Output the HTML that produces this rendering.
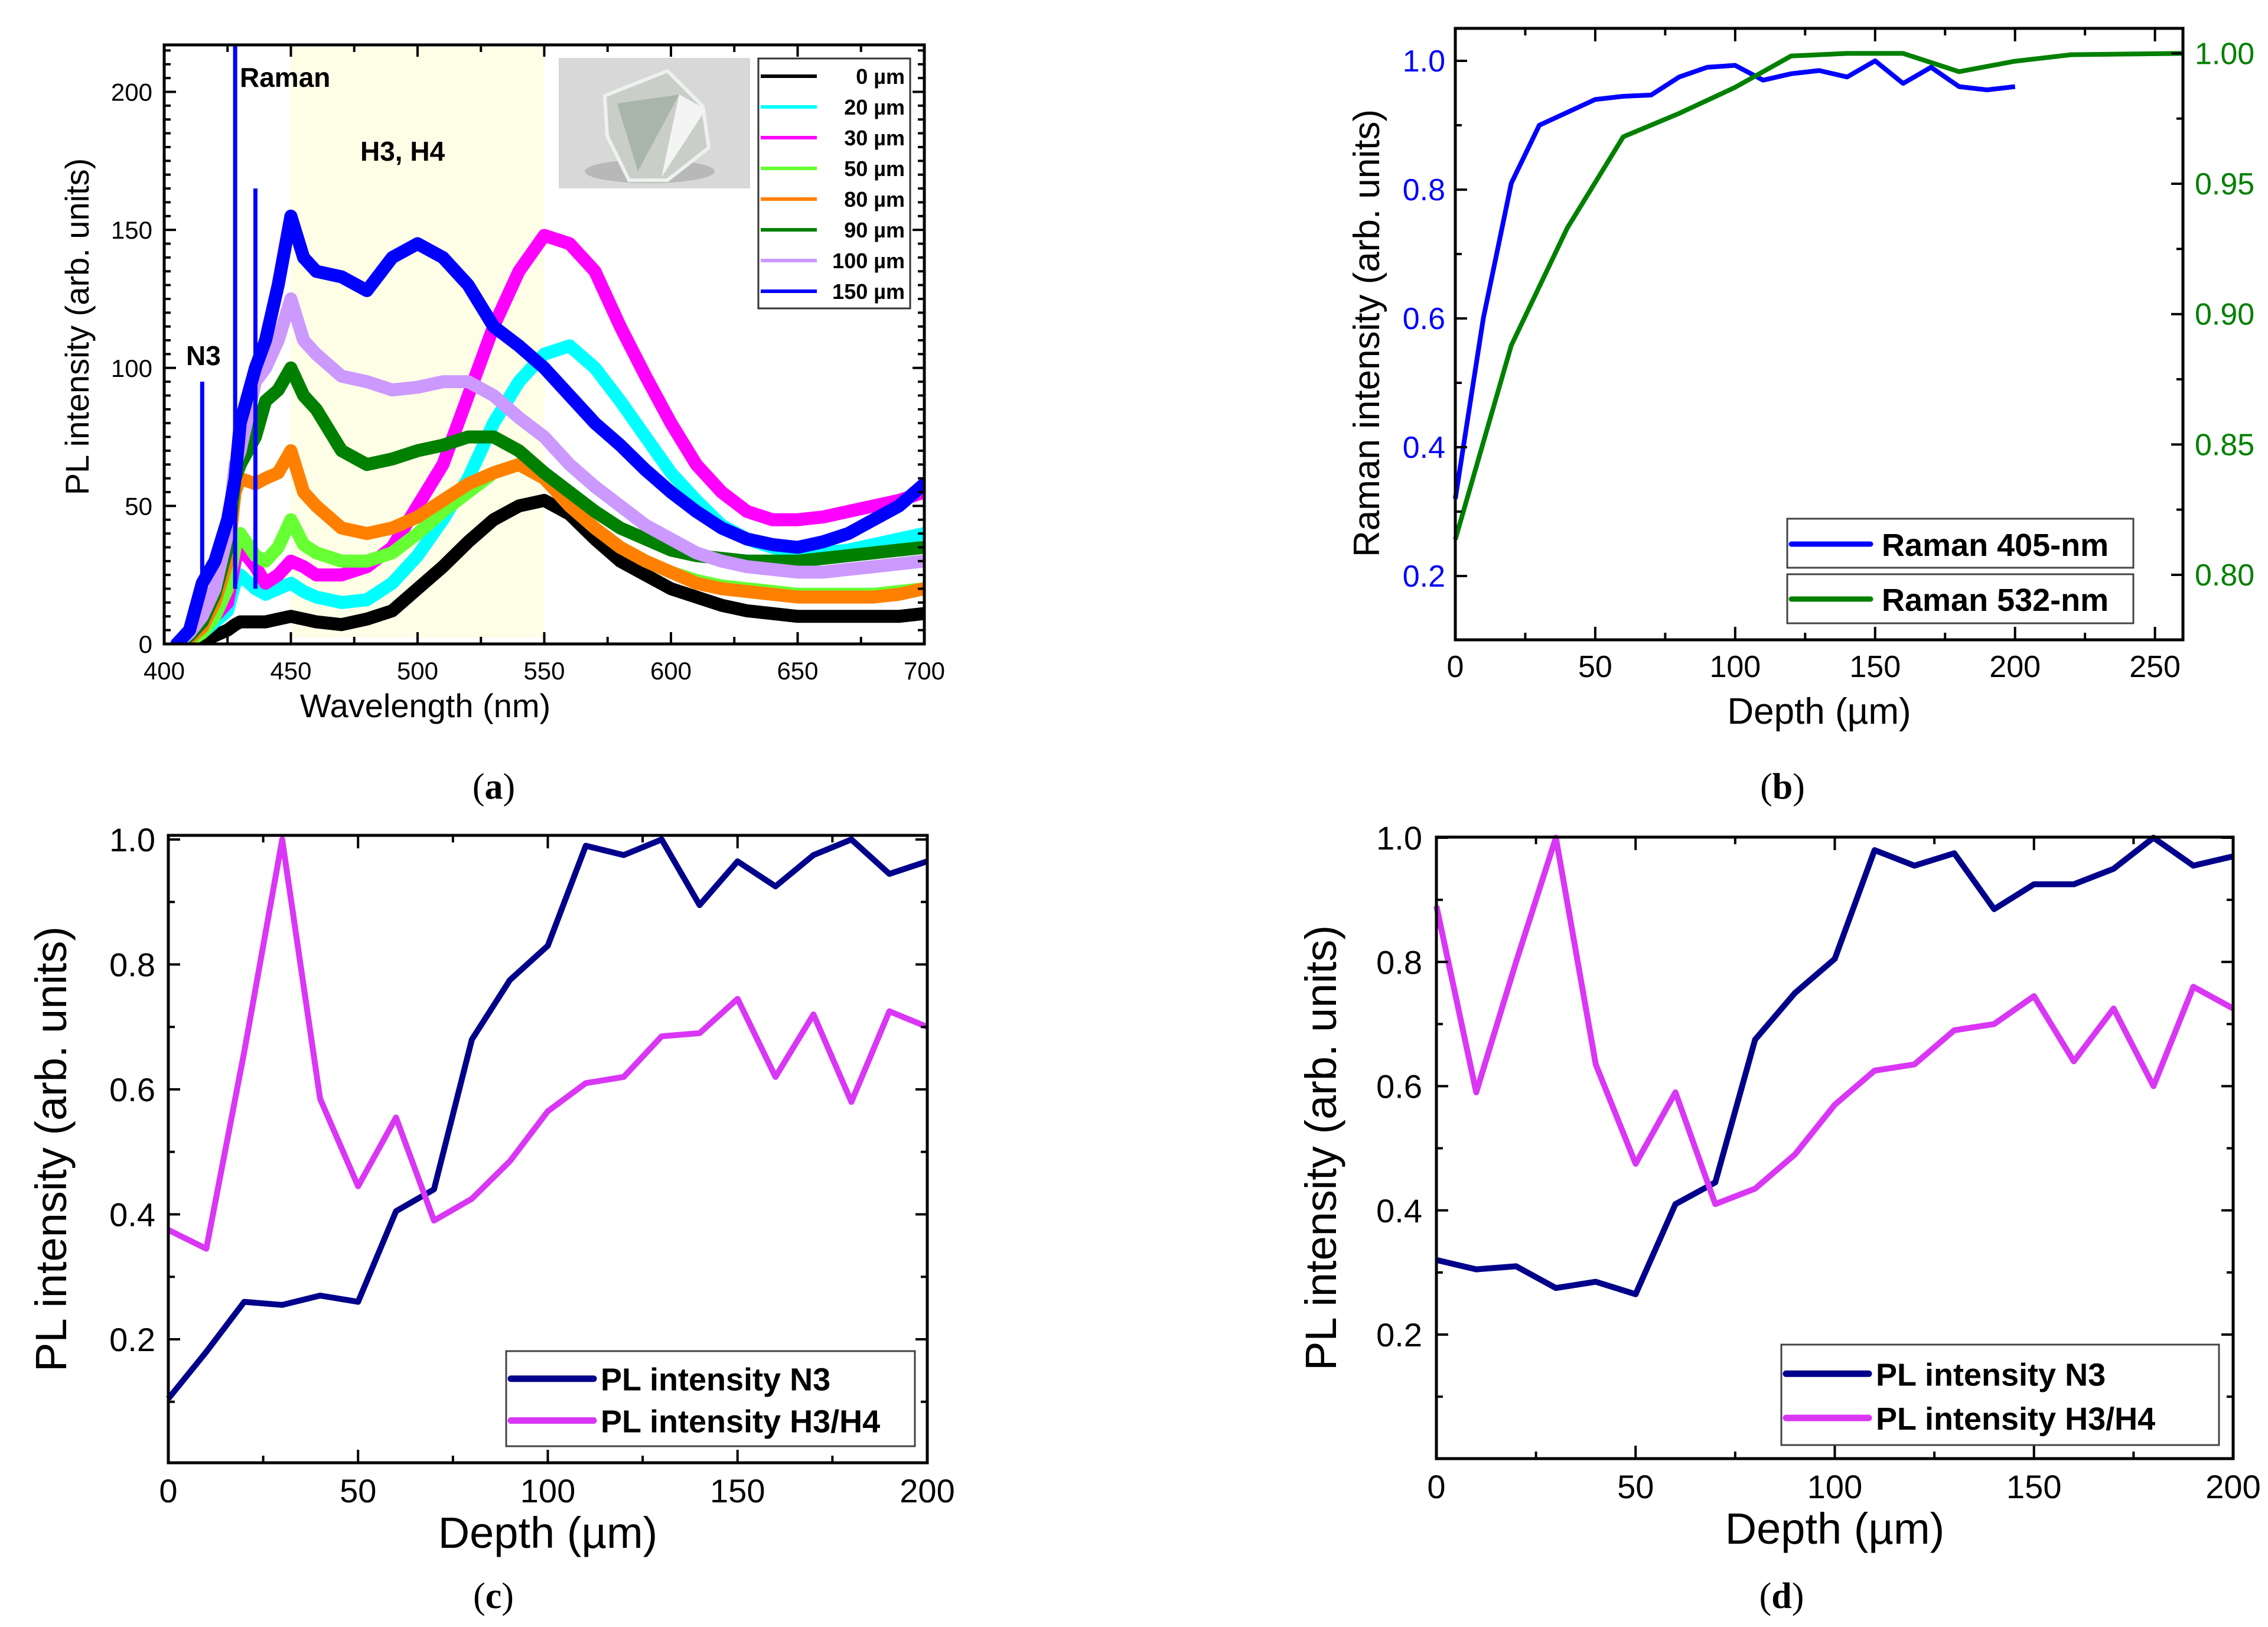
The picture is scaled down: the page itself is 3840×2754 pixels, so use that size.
<!DOCTYPE html>
<html><head><meta charset="utf-8">
<style>
html,body{margin:0;padding:0;background:#fff;}
svg{display:block;font-family:"Liberation Sans",Arial,sans-serif;}
</style></head>
<body>
<svg id="fig" xmlns="http://www.w3.org/2000/svg" width="3840" height="2754" viewBox="0 0 3840 2754">
<rect x="0" y="0" width="3840" height="2754" fill="#fff"/>
</svg>
<script>
// ---------- Panel (a) data ----------
var aWavelengths=[405,410,415,420,425,428,430,436,440,445,450,455,460,470,480,490,500,510,520,530,540,550,560,570,580,590,600,610,620,630,640,650,660,670,680,690,700];
var aDepthLabels=["0 µm","20 µm","30 µm","50 µm","80 µm","90 µm","100 µm","150 µm"];
var aS0  =[0,0,1,3,5,7,8,8,8,9,10,9,8,7,9,12,20,28,37,45,50,52,47,38,30,25,20,17,14,12,11,10,10,10,10,10,11];
var aS20 =[0,1,4,8,12,22,25,20,18,20,22,19,17,15,16,22,32,45,60,80,95,105,108,100,88,75,62,52,43,38,35,33,33,34,36,38,40];
var aS30 =[0,2,5,10,15,30,35,28,22,25,30,28,25,25,28,35,50,65,90,115,135,148,145,135,115,97,80,65,55,48,45,45,46,48,50,52,55];
var aS50 =[0,1,4,10,20,35,40,32,30,35,45,36,33,30,30,33,40,48,55,62,65,60,50,42,35,30,26,23,21,20,19,18,18,18,18,19,20];
var aS80 =[0,2,6,15,30,55,60,58,60,62,70,55,50,42,40,42,46,52,58,62,65,60,50,42,35,30,26,22,20,19,18,17,17,17,17,18,20];
var aS90 =[0,3,8,18,35,60,65,75,88,92,100,90,85,70,65,67,70,72,75,75,70,62,55,48,42,38,34,32,31,30,30,30,31,32,33,34,35];
var aS100=[0,4,10,20,40,65,70,95,100,110,125,110,105,97,95,92,93,95,95,90,82,75,65,57,50,43,38,33,30,28,27,26,26,27,28,29,30];
var aS150=[0,5,22,30,45,60,80,100,110,130,155,140,135,133,128,140,145,140,130,115,108,100,90,80,72,63,55,48,42,38,36,35,37,40,45,50,58];
var aSpikeWl=[415,428,436];
var aSpikeVal=[95,217,165];
var aXTicks=[400,450,500,550,600,650,700];
var aYTicks=[0,50,100,150,200];
// ---------- Panel (b) data ----------
var bDepth405=[0,10,20,30,40,50,60,70,80,90,100,110,120,130,140,150,160,170,180,190,200];
var bRaman405=[0.32,0.6,0.81,0.9,0.92,0.94,0.945,0.947,0.975,0.99,0.993,0.97,0.98,0.985,0.975,1.0,0.965,0.99,0.96,0.955,0.96];
var bDepth532=[0,20,40,60,80,100,120,140,160,180,200,220,260];
var bRaman532=[0.8136,0.888,0.933,0.968,0.977,0.987,0.999,1.0,1.0,0.993,0.997,0.9995,1.0];
var bXTicks=[0,50,100,150,200,250];
var bYLeftTicks=[0.2,0.4,0.6,0.8,1.0];
var bYRightTicks=[0.80,0.85,0.90,0.95,1.00];
// ---------- Panel (c) data ----------
var cDepth=[0,10,20,30,40,50,60,70,80,90,100,110,120,130,140,150,160,170,180,190,200];
var cN3=[0.105,0.18,0.26,0.255,0.27,0.26,0.405,0.44,0.68,0.775,0.83,0.99,0.975,1.0,0.895,0.965,0.925,0.975,1.0,0.945,0.965];
var cH3=[0.375,0.345,0.66,1.0,0.585,0.445,0.555,0.39,0.425,0.485,0.565,0.61,0.62,0.685,0.69,0.745,0.62,0.72,0.58,0.725,0.7];
// ---------- Panel (d) data ----------
var dDepth=[0,10,20,30,40,50,60,70,80,90,100,110,120,130,140,150,160,170,180,190,200];
var dN3=[0.32,0.305,0.31,0.275,0.285,0.265,0.41,0.445,0.675,0.75,0.805,0.98,0.955,0.975,0.885,0.925,0.925,0.95,1.0,0.955,0.97];
var dH3=[0.89,0.59,0.8,1.0,0.635,0.475,0.59,0.41,0.435,0.49,0.57,0.625,0.635,0.69,0.7,0.745,0.64,0.725,0.6,0.76,0.725];
var cdXTicks=[0,50,100,150,200];
var cdYTicks=[0.2,0.4,0.6,0.8,1.0];

var NS="http://www.w3.org/2000/svg";
var svg=document.getElementById('fig');
function mk(tag,attrs,parent){var e=document.createElementNS(NS,tag);for(var k in attrs)e.setAttribute(k,attrs[k]);(parent||svg).appendChild(e);return e;}
function lin(d0,d1,r0,r1){return function(v){return r0+(v-d0)/(d1-d0)*(r1-r0);};}
function pathD(xs,ys,fx,fy){var s='';for(var i=0;i<xs.length;i++){s+=(i?'L':'M')+fx(xs[i]).toFixed(1)+' '+fy(ys[i]).toFixed(1);}return s;}
function txt(x,y,str,size,opts,parent){opts=opts||{};var t=mk('text',{x:x,y:y,'font-size':size,fill:opts.fill||'#000','text-anchor':opts.anchor||'middle','font-weight':opts.weight||'normal'},parent);if(opts.family)t.setAttribute('font-family',opts.family);if(opts.rot)t.setAttribute('transform','rotate(-90 '+x+' '+y+')');t.textContent=str;return t;}

// ===== Panel A =====
var gA=mk('g',{});


var aL=278,aR=1565,aT=76,aB=1090;
var ax=lin(400,700,aL,aR), ay=lin(0,200,aB,155.5);
var band=mk('rect',{x:ax(450),y:aT+3,width:ax(550)-ax(450),height:aB-aT-14,fill:'#fefde6'},gA);


var aColors=['#000000','#00ffff','#ff00ff','#66ff33','#ff8000','#008000','#cc99ff','#0000ff'];
var aSeries=[aS0,aS20,aS30,aS50,aS80,aS90,aS100,aS150];
var clipA=mk('clipPath',{id:'clipA'},gA);mk('rect',{x:aL,y:aT,width:aR-aL,height:aB-aT},clipA);
var gAS=mk('g',{'clip-path':'url(#clipA)'},gA);
for(var i=0;i<aSeries.length;i++){
  var p=mk('path',{d:pathD(aWavelengths,aSeries[i],ax,ay),fill:'none',stroke:aColors[i],'stroke-width':22,'stroke-linejoin':'round','stroke-linecap':'round'},gAS);
  
  
}
for(var i=0;i<aSpikeWl.length;i++){
  var sp=mk('line',{x1:ax(aSpikeWl[i]),x2:ax(aSpikeWl[i]),y1:ay(20),y2:ay(aSpikeVal[i]),stroke:'#0000ff','stroke-width':7},gAS);
  
  
}
// inset photo
var gI=mk('g',{},gA);


mk('rect',{x:946,y:98,width:324,height:221,fill:'#d8d8d8'},gI);
mk('ellipse',{cx:1100,cy:290,rx:110,ry:20,fill:'#b8b8b8'},gI);
mk('polygon',{points:'1024,162 1130,120 1190,180 1200,250 1130,305 1065,305 1028,230',fill:'#c9cec9',stroke:'#eef2ee','stroke-width':6},gI);
mk('polygon',{points:'1045,175 1150,160 1080,290',fill:'#aab5aa'},gI);
mk('polygon',{points:'1150,160 1195,185 1120,300',fill:'#f4f4f4'},gI);
// axes frame & ticks
mk('rect',{x:aL,y:aT,width:aR-aL,height:aB-aT,fill:'none',stroke:'#000','stroke-width':5},gA);
for(var v=400;v<=700;v+=25){var L=(v%50==0)?20:12;mk('line',{x1:ax(v),x2:ax(v),y1:aB,y2:aB-L,stroke:'#000','stroke-width':4},gA);mk('line',{x1:ax(v),x2:ax(v),y1:aT,y2:aT+L,stroke:'#000','stroke-width':4},gA);}
for(var v=0;v<=215;v+=5){var L=(v%50==0)?20:11;mk('line',{x1:aL,x2:aL+L,y1:ay(v),y2:ay(v),stroke:'#000','stroke-width':4},gA);mk('line',{x1:aR,x2:aR-L,y1:ay(v),y2:ay(v),stroke:'#000','stroke-width':4},gA);}
for(var i=0;i<aXTicks.length;i++){txt(ax(aXTicks[i]),1150,String(aXTicks[i]),42,{},gA);}
for(var i=0;i<aYTicks.length;i++){txt(258,ay(aYTicks[i])+15,String(aYTicks[i]),42,{anchor:'end'},gA);}
var t=txt(720,1214,'Wavelength (nm)',56,{},gA);
t=txt(150,553,'PL intensity (arb. units)',56,{rot:1},gA);
txt(406,147,'Raman',46,{anchor:'start',weight:'bold'},gA);
txt(610,272,'H3, H4',46,{anchor:'start',weight:'bold'},gA);
txt(315,618,'N3',46,{anchor:'start',weight:'bold'},gA);
// legend a
var gLA=mk('g',{},gA);


mk('rect',{x:1284,y:99,width:257,height:423,fill:'#fff',stroke:'#333','stroke-width':3},gLA);
for(var i=0;i<aDepthLabels.length;i++){
  var yy=129+i*52;
  var ln=mk('line',{x1:1288,x2:1383,y1:yy,y2:yy,stroke:aColors[i],'stroke-width':6},gLA);
  
  
  txt(1532,yy+13,aDepthLabels[i],36,{anchor:'end',weight:'bold'},gLA);
}
txt(836,1352,'(',62,{family:'"Liberation Serif",serif'},gA);
var lab=mk('text',{x:836,y:1352,'font-size':62,'text-anchor':'middle','font-family':'"Liberation Serif",serif'},gA);lab.innerHTML='(<tspan font-weight="bold">a</tspan>)';
gA.removeChild(gA.querySelectorAll('text')[gA.querySelectorAll('text').length-2]);

// ===== Panel B =====
var gB=mk('g',{});


var bL=2464,bR=3696,bT=48,bB=1083;
var bx=lin(0,260,bL,bR), byL=lin(0.2,1.0,975,103), byR=lin(0.80,1.00,973,90.4);
var p1=mk('path',{d:pathD(bDepth405,bRaman405,bx,byL),fill:'none',stroke:'#0000ff','stroke-width':8,'stroke-linejoin':'round'},gB);

var p2=mk('path',{d:pathD(bDepth532,bRaman532,bx,byR),fill:'none',stroke:'#008000','stroke-width':8,'stroke-linejoin':'round'},gB);

mk('rect',{x:bL,y:bT,width:bR-bL,height:bB-bT,fill:'none',stroke:'#000','stroke-width':5},gB);
for(var v=0;v<=260;v+=25){var L=(v%50==0)?22:12;mk('line',{x1:bx(v),x2:bx(v),y1:bB,y2:bB-L,stroke:'#000','stroke-width':4},gB);mk('line',{x1:bx(v),x2:bx(v),y1:bT,y2:bT+L,stroke:'#000','stroke-width':4},gB);}
for(var v=0.2;v<=1.04;v+=0.1){var L=(Math.round(v*10)%2==0)?20:11;mk('line',{x1:bL,x2:bL+L,y1:byL(v),y2:byL(v),stroke:'#000','stroke-width':4},gB);}
for(var v=0.775;v<=1.005;v+=0.025){var L=(Math.round(v*1000)%50==0)?20:11;mk('line',{x1:bR,x2:bR-L,y1:byR(v),y2:byR(v),stroke:'#000','stroke-width':4},gB);}
for(var i=0;i<bXTicks.length;i++){txt(bx(bXTicks[i]),1146,String(bXTicks[i]),52,{},gB);}
for(var i=0;i<bYLeftTicks.length;i++){txt(2447,byL(bYLeftTicks[i])+18,bYLeftTicks[i].toFixed(1),52,{anchor:'end',fill:'#0000ff'},gB);}
for(var i=0;i<bYRightTicks.length;i++){txt(3716,byR(bYRightTicks[i])+18,bYRightTicks[i].toFixed(2),52,{anchor:'start',fill:'#008000'},gB);}
t=txt(3080,1225,'Depth (µm)',62,{},gB);
t=txt(2335,564,'Raman intensity (arb. units)',62,{rot:1},gB);
var gLB=mk('g',{},gB);


mk('rect',{x:3026,y:878,width:586,height:83,fill:'#fff',stroke:'#444','stroke-width':3},gLB);
mk('rect',{x:3026,y:972,width:586,height:83,fill:'#fff',stroke:'#444','stroke-width':3},gLB);
mk('line',{x1:3033,x2:3167,y1:921,y2:921,stroke:'#0000ff','stroke-width':9,'stroke-linecap':'round'},gLB);
mk('line',{x1:3033,x2:3167,y1:1014,y2:1014,stroke:'#008000','stroke-width':9,'stroke-linecap':'round'},gLB);
txt(3186,941,'Raman 405-nm',54,{anchor:'start',weight:'bold'},gLB);
txt(3186,1034,'Raman 532-nm',54,{anchor:'start',weight:'bold'},gLB);
lab=mk('text',{x:3018,y:1352,'font-size':62,'text-anchor':'middle','font-family':'"Liberation Serif",serif'},gB);lab.innerHTML='(<tspan font-weight="bold">b</tspan>)';

// ===== Panels C, D =====
function depthPanel(name,L,R,T,B,y10,y02,xs,n3,h3,lg,titleX,tickRX,letter){
  var g=mk('g',{});
  
  
  var fx=lin(0,200,L,R), fy=lin(0.2,1.0,y02,y10);
  var a=mk('path',{d:pathD(xs,n3,fx,fy),fill:'none',stroke:'#00008b','stroke-width':10,'stroke-linejoin':'round'},g);
  
  var b=mk('path',{d:pathD(xs,h3,fx,fy),fill:'none',stroke:'#d936f5','stroke-width':10,'stroke-linejoin':'round'},g);
  
  mk('rect',{x:L,y:T,width:R-L,height:B-T,fill:'none',stroke:'#000','stroke-width':5},g);
  for(var v=0;v<=200;v+=25){var l=(v%50==0)?22:12;mk('line',{x1:fx(v),x2:fx(v),y1:B,y2:B-l,stroke:'#000','stroke-width':4},g);mk('line',{x1:fx(v),x2:fx(v),y1:T,y2:T+l,stroke:'#000','stroke-width':4},g);}
  for(var k=1;k<=10;k++){var v=k/10;var l=(k%2==0)?20:11;mk('line',{x1:L,x2:L+l,y1:fy(v),y2:fy(v),stroke:'#000','stroke-width':4},g);mk('line',{x1:R,x2:R-l,y1:fy(v),y2:fy(v),stroke:'#000','stroke-width':4},g);}
  for(var i=0;i<cdXTicks.length;i++){txt(fx(cdXTicks[i]),B+67,String(cdXTicks[i]),56,{},g);}
  for(var i=0;i<cdYTicks.length;i++){txt(tickRX,fy(cdYTicks[i])+20,cdYTicks[i].toFixed(1),56,{anchor:'end'},g);}
  var tt=txt((L+R)/2,B+144,'Depth (µm)',74,{},g);
  tt=txt(titleX,(T+B)/2,'PL intensity (arb. units)',74,{rot:1},g);
  var gl=mk('g',{},g);
  
  
  mk('rect',{x:lg[0],y:lg[1],width:lg[2]-lg[0],height:lg[3]-lg[1],fill:'#fff',stroke:'#444','stroke-width':3},gl);
  var r1=lg[1]+(lg[3]-lg[1])*0.29, r2=lg[1]+(lg[3]-lg[1])*0.73;
  mk('line',{x1:lg[0]+8,x2:lg[0]+148,y1:r1,y2:r1,stroke:'#00008b','stroke-width':11,'stroke-linecap':'round'},gl);
  mk('line',{x1:lg[0]+8,x2:lg[0]+148,y1:r2,y2:r2,stroke:'#d936f5','stroke-width':11,'stroke-linecap':'round'},gl);
  txt(lg[0]+160,r1+20,'PL intensity N3',54,{anchor:'start',weight:'bold'},gl);
  txt(lg[0]+160,r2+20,'PL intensity H3/H4',54,{anchor:'start',weight:'bold'},gl);
  var lb=mk('text',{x:(L+R)/2+(letter=='c'?-92:-90),y:2722,'font-size':62,'text-anchor':'middle','font-family':'"Liberation Serif",serif'},g);lb.innerHTML='(<tspan font-weight="bold">'+letter+'</tspan>)';
}
depthPanel('panel-c-pl-intensity',285,1570,1414,2476,1421,2267,cDepth,cN3,cH3,[857,2287,1549,2448],112,263,'c');
depthPanel('panel-d-pl-intensity',2432,3781,1417,2469,1418,2259,dDepth,dN3,dH3,[3016,2276,3757,2446],2262,2408,'d');
</script>
</body></html>
